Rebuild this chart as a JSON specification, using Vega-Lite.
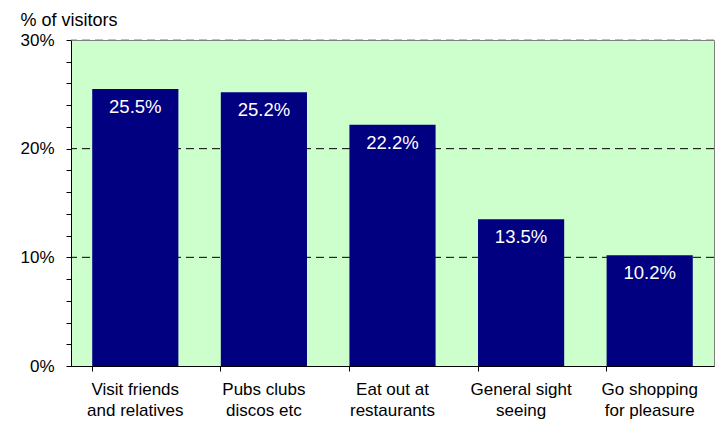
{
  "$schema": "https://vega.github.io/schema/vega-lite/v6.json",
  "width": 643,
  "height": 326,
  "autosize": "none",
  "padding": {"left": 71, "top": 40, "right": 10, "bottom": 55},
  "config": {
    "font": "Liberation Sans",
    "view": {"fill": "#ccffcc", "stroke": "#808080", "strokeWidth": 1}
  },
  "datasets": {
    "bars": [
      {"activity": "Visit friends|and relatives", "share": 0.255},
      {"activity": "Pubs clubs|discos etc", "share": 0.252},
      {"activity": "Eat out at|restaurants", "share": 0.222},
      {"activity": "General sight|seeing", "share": 0.135},
      {"activity": "Go shopping|for pleasure", "share": 0.102}
    ],
    "grid": [{"v": 0.1}, {"v": 0.2}, {"v": 0.3}]
  },
  "layer": [
    {
      "data": {"name": "grid"},
      "mark": {"type": "rule", "strokeDash": [8, 5], "strokeWidth": 1},
      "encoding": {
        "y": {
          "field": "v", "type": "quantitative",
          "scale": {"domain": [0, 0.3], "nice": false},
          "axis": {
            "title": "% of visitors", "titleAngle": 0, "titleAlign": "left",
            "titleBaseline": "alphabetic", "titleX": -51, "titleY": -14.5,
            "titleFontSize": 18, "titleFontWeight": "normal", "titleColor": "#000000",
            "values": [0, 0.02, 0.04, 0.06, 0.08, 0.1, 0.12, 0.14, 0.16, 0.18, 0.2, 0.22, 0.24, 0.26, 0.28, 0.3],
            "tickCount": 16,
            "labelExpr": "abs(datum.value*10 - round(datum.value*10)) < 0.001 ? format(datum.value, '.0%') : ''",
            "labelOverlap": false,
            "labelFontSize": 17, "labelColor": "#000000", "labelPadding": 12,
            "grid": false,
            "domainColor": "#000000", "tickColor": "#000000", "tickSize": 5
          }
        },
        "color": {"condition": {"test": "datum.v > 0.25", "value": "#808080"}, "value": "#000000"}
      }
    },
    {
      "data": {"name": "bars"},
      "mark": {"type": "bar", "color": "#000080"},
      "encoding": {
        "x": {
          "field": "activity", "type": "nominal", "sort": null,
          "scale": {"paddingInner": 0.33, "paddingOuter": 0.165},
          "axis": {
            "title": null, "labelAngle": 0, "bandPosition": 0,
            "labelExpr": "split(datum.label, '|')",
            "labelFontSize": 17, "labelColor": "#000000", "labelPadding": 10,
            "labelLineHeight": 21,
            "domainColor": "#000000", "tickColor": "#000000", "tickSize": 5
          }
        },
        "y": {"field": "share", "type": "quantitative"}
      }
    },
    {
      "data": {"name": "bars"},
      "mark": {"type": "text", "color": "#ffffff", "fontSize": 18.5, "baseline": "top", "dy": 9},
      "encoding": {
        "x": {"field": "activity", "type": "nominal", "sort": null},
        "y": {"field": "share", "type": "quantitative"},
        "text": {"field": "share", "type": "quantitative", "format": ".1%"}
      }
    }
  ]
}
